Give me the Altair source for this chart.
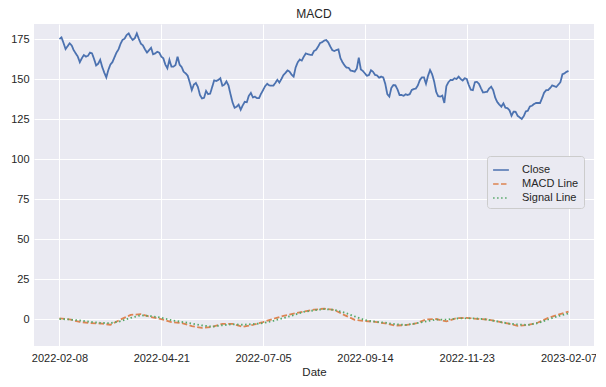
import altair as alt
import pandas as pd

# Close price, one value per trading day (index 0 = 2022-02-08, index 250 = 2023-02-07)
close = [
    175, 176, 172.5, 168.75, 170.5, 172.3, 171, 168, 166, 164,
    160.5, 163, 165, 164, 164.5, 166.5, 166, 162.5, 158.5, 159.5,
    162, 157.5, 154, 151, 155.6, 159, 160.5, 163.5, 166.5, 168.5,
    172, 174.5, 175.2, 177.5, 178.5, 176, 174.4, 175.5, 178.5, 175,
    172, 171, 168.5, 166.5, 168, 169.5, 165.4, 166, 167, 166.5,
    164, 163, 159, 156.7, 162, 157.7, 157.7, 158.75, 164, 159,
    157.5, 154.5, 153.5, 152, 147.8, 143.1, 146.5, 147.5, 145, 140,
    137.8, 138.2, 142.5, 140.5, 140.8, 145, 149.2, 148.8, 149.4, 150.5,
    145.8, 146.5, 148.5, 146, 140.5, 135.4, 132, 132.7, 134, 130.8,
    133.5, 135.8, 135.5, 139.5, 141.3, 138.5, 139, 138, 138, 140.8,
    143.1, 145.5, 147, 146, 145.8, 145.8, 147.5, 149.5, 147.8, 150,
    152.5, 153.8, 155.4, 154.6, 152.7, 151.5, 157.3, 160.4, 162.2, 161.5,
    164, 166, 165.5, 165.2, 165, 167.5, 168.2, 170.2, 172.5, 173,
    174, 174.4, 172.9, 170.3, 168, 167.5, 168.1, 168.5, 163, 160.5,
    158.5, 157.1, 157, 155.2, 155, 154.6, 156.5, 163.3, 156, 155,
    153.5, 152, 152.5, 155.5, 154.5, 152.5, 152.2, 150.8, 151.5, 151,
    147, 140.5, 139, 144.5, 146.25, 146, 143.5, 140, 140, 139.5,
    140.5, 140, 140.5, 143.1, 143.75, 144, 146, 149.4, 151, 151,
    147, 152, 155.6, 153, 148.5, 142, 139.2, 139, 139.6, 135,
    145.5, 148, 149.4, 149.3, 150.5, 150, 151.5, 150, 149, 150.5,
    150, 146.25, 143.3, 143, 148, 148.2, 147, 144.2, 141.6, 141.8,
    142, 144, 145.2, 143, 138.3, 135.6, 134, 132.7, 134.8, 132,
    131.8, 130.5, 127, 129.6, 129.5, 127, 126, 125, 126.8, 129.7,
    130.2, 132.8, 133.3, 134.3, 135, 135, 135, 138, 141.5, 143,
    143.1, 144.4, 146, 145.5, 145, 146.5, 148, 153, 153.5, 154.5,
    155,
]

# MACD and signal line, read every 5 trading days
step_days = list(range(0, 251, 5))
macd_line = [
    0.4, -0.3, -1.8, -2.6, -2.8, -3.6, -0.3, 2.6, 3.0, 1.2,
    -0.1, -2.0, -2.5, -4.4, -5.6, -4.9, -3.0, -3.0, -4.9, -3.6,
    -1.9, 0.1, 2.0, 3.4, 4.6, 5.8, 6.5, 5.7, 2.4, -0.5,
    -1.25, -1.8, -2.8, -4.1, -3.8, -2.8, -0.3, 0.0, -1.5, 0.5,
    0.7, 0.1, -0.3, -1.5, -2.8, -4.3, -3.8, -2.2, 0.7, 2.8,
    4.6,
]
signal_line = [
    0.0, -0.3, -0.9, -1.8, -2.4, -2.6, -1.4, 0.7, 2.3, 1.8,
    0.8, -0.8, -1.8, -2.8, -4.0, -4.8, -3.9, -3.3, -3.6, -3.2,
    -2.6, -1.1, 0.6, 2.4, 4.5, 5.4, 6.2, 5.7, 4.0, 1.6,
    -0.7, -1.7, -2.3, -3.3, -3.7, -2.8, -1.5, -0.4, -0.4, 0.3,
    0.4, 0.3, -0.3, -1.5, -2.7, -3.4, -3.7, -2.6, -0.3, 1.8,
    3.5,
]

tick_days = [0, 50, 100, 150, 200, 250]
tick_labels = ["2022-02-08", "2022-04-21", "2022-07-05", "2022-09-14", "2022-11-23", "2023-02-07"]
y_ticks = [0, 25, 50, 75, 100, 125, 150, 175]
series_names = ["Close", "MACD Line", "Signal Line"]

rows = []
for i, v in enumerate(close):
    rows.append({"day": i, "value": v, "series": "Close"})
for d, v in zip(step_days, macd_line):
    rows.append({"day": d, "value": v, "series": "MACD Line"})
for d, v in zip(step_days, signal_line):
    rows.append({"day": d, "value": v, "series": "Signal Line"})
df = pd.DataFrame(rows)

label_map = "{" + ",".join(f"'{d}':'{l}'" for d, l in zip(tick_days, tick_labels)) + "}"
label_expr = f"{label_map}[toString(datum.value)]"

FONT = "Liberation Sans"
TXT = "#262626"

chart = (
    alt.Chart(df)
    .mark_line(strokeWidth=1.8)
    .encode(
        x=alt.X(
            "day:Q",
            scale=alt.Scale(domain=[-12.5, 262.5], nice=False, zero=False),
            axis=alt.Axis(values=tick_days, labelExpr=label_expr, title="Date"),
        ),
        y=alt.Y(
            "value:Q",
            scale=alt.Scale(domain=[-16.875, 184.375], nice=False, zero=False),
            axis=alt.Axis(values=y_ticks, title=None),
        ),
        color=alt.Color(
            "series:N",
            scale=alt.Scale(domain=series_names, range=["#4C72B0", "#DD8452", "#55A868"]),
            legend=alt.Legend(title=None),
        ),
        strokeDash=alt.StrokeDash(
            "series:N",
            scale=alt.Scale(domain=series_names, range=[[1, 0], [5.5, 2.4], [1.5, 2.5]]),
            legend=alt.Legend(title=None),
        ),
        order="day:Q",
    )
    .properties(
        width=560,
        height=322,
        title=alt.TitleParams("MACD", fontSize=12, font=FONT, color=TXT, fontWeight="normal", offset=3),
        autosize=alt.AutoSizeParams(type="none"),
        padding={"left": 26, "top": 16, "right": 2, "bottom": 30},
    )
    .configure_view(fill="#EAEAF2", stroke=None)
    .configure_axis(
        grid=True,
        gridColor="white",
        gridWidth=1,
        domain=False,
        ticks=False,
        labelFont=FONT,
        labelFontSize=11,
        labelColor=TXT,
        titleFont=FONT,
        titleFontSize=11.5,
        titleColor=TXT,
        titleFontWeight="normal",
        labelPadding=6,
    )
    .configure_axisX(titlePadding=3)
    .configure_axisY(labelPadding=5)
    .configure_legend(
        orient="none",
        legendX=453,
        legendY=132,
        fillColor="#EAEAF2",
        strokeColor="#CCCCCC",
        cornerRadius=3,
        padding=5,
        labelFont=FONT,
        labelFontSize=11,
        labelColor=TXT,
        symbolType="stroke",
        symbolSize=250,
        symbolStrokeWidth=1.6,
        rowPadding=0,
        labelOffset=12,
    )
)

chart.save("out.html", embed_options={"renderer": "svg", "actions": False})
